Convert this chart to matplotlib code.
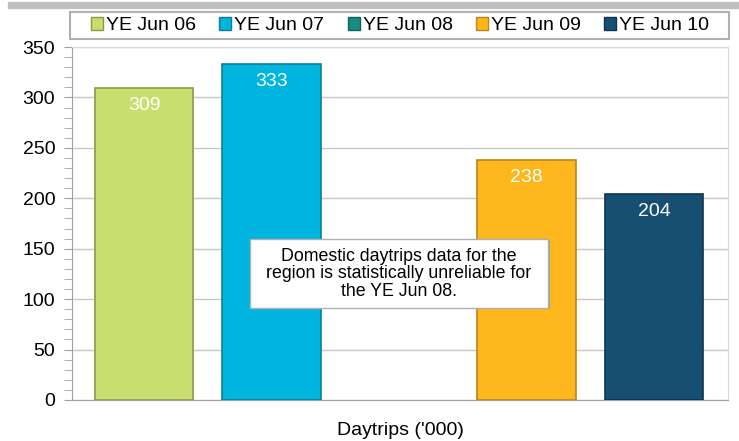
import numpy as np
import matplotlib.pyplot as plt
from matplotlib.patches import Patch, Rectangle

plt.rcParams['font.family'] = ['Liberation Sans', 'DejaVu Sans']

# data
labels = ["YE Jun 06", "YE Jun 07", "YE Jun 08", "YE Jun 09", "YE Jun 10"]
values = [309, 333, np.nan, 238, 204]
colors = ["#c8de6e", "#00b4e0", "#1a8a82", "#fdb71c", "#174f73"]
edges = ["#8a9a48", "#0a7f9c", "#10625c", "#b8861a", "#0e3550"]

fig = plt.figure(figsize=(7.39, 4.41), dpi=100)
# grey strip at the top
fig.patches.append(Rectangle((8 / 739, 1 - 8 / 441), 731 / 739, 6 / 441,
                             transform=fig.transFigure, color="#c0c0c0", zorder=0))
# legend frame
fig.patches.append(Rectangle((70 / 739, 1 - 39 / 441), 659 / 739, 27 / 441,
                             transform=fig.transFigure, facecolor="white",
                             edgecolor="#b0b0b0", linewidth=1.5, zorder=1))

ax = fig.add_axes([72 / 739, 41 / 441, 656 / 739, 353 / 441])

x = np.arange(len(values))
for i in range(len(values)):
    if np.isnan(values[i]):
        continue
    ax.bar(x[i], values[i], width=0.77, color=colors[i], edgecolor=edges[i],
           linewidth=1.2, zorder=3)
    ax.text(x[i], values[i] - 9, str(int(values[i])), ha="center", va="top",
            color="white", fontsize=14, zorder=4)

ax.set_xlim(-0.565, 4.58)
ax.set_ylim(0, 350)
ax.set_yticks(np.arange(0, 351, 50))
ax.set_yticks(np.arange(0, 351, 10), minor=True)
ax.tick_params(axis="y", which="both", direction="out", length=6, color="#a0a0a0",
               labelsize=14, pad=6)
ax.tick_params(axis="x", bottom=False, labelbottom=False)
ax.yaxis.grid(True, color="#c8c8c8", linewidth=1, zorder=0)
ax.set_axisbelow(True)
for s in ["top", "right"]:
    ax.spines[s].set_color("#d8d8d8")
for s in ["left", "bottom"]:
    ax.spines[s].set_color("#a0a0a0")

ax.set_xlabel("Daytrips ('000)", fontsize=14, labelpad=16)

# note box
ax.add_patch(Rectangle((0.274, 0.258), 0.454, 0.193, transform=ax.transAxes,
                       facecolor="#9a9a9a", edgecolor="none", zorder=5))
ax.add_patch(Rectangle((0.271, 0.262), 0.454, 0.193, transform=ax.transAxes,
                       facecolor="white", edgecolor="#b0b0b0", linewidth=1, zorder=6))
ax.text(0.498, 0.357, "Domestic daytrips data for the\nregion is statistically unreliable for\nthe YE Jun 08.",
        transform=ax.transAxes, ha="center", va="center", fontsize=12.8,
        linespacing=1.05, zorder=7)

handles = [Patch(facecolor=c, edgecolor=e, linewidth=1) for c, e in zip(colors, edges)]
leg = fig.legend(handles, labels, loc="center left", bbox_to_anchor=(91 / 739, 1 - 25.5 / 441),
                 ncol=5, frameon=False, fontsize=14,
                 handlelength=0.62, handleheight=0.62, handletextpad=0.15,
                 columnspacing=1.2, borderpad=0, borderaxespad=0)

fig.savefig("out.png", dpi=100)
